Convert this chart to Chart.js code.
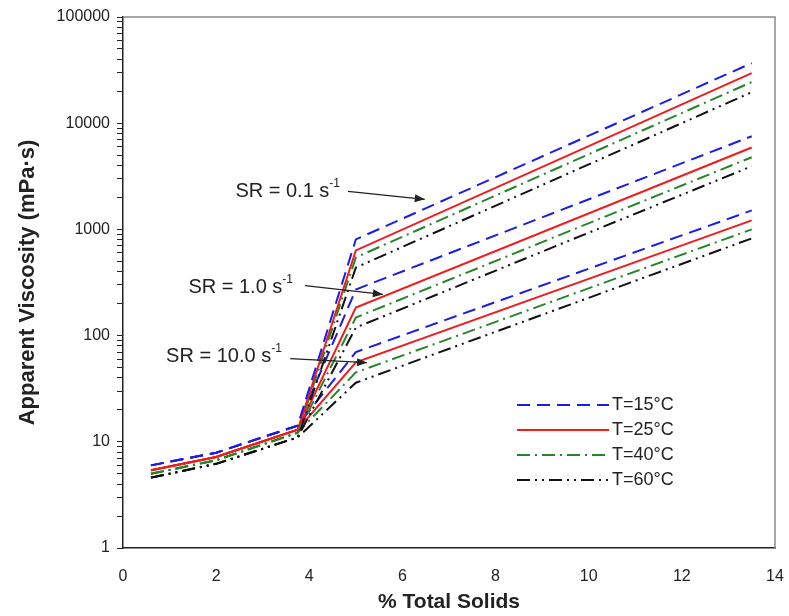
<!DOCTYPE html>
<html>
<head>
<meta charset="utf-8">
<script src="https://cdn.jsdelivr.net/npm/chart.js@4.4.1/dist/chart.umd.min.js"></script>
<style>
  html, body { margin: 0; padding: 0; background: #fff; }
  #wrap { width: 789px; height: 616px; }
</style>
</head>
<body>
<div id="wrap"><canvas id="myChart" width="789" height="616"></canvas></div>
<script>
// % total solids where each curve has a point
const solids = [0.6, 2.0, 3.75, 5.0, 13.5];

// apparent viscosity (mPa·s) at SR = 0.1 1/s
const sr01_T15 = [6.0, 7.9, 14.2, 805, 36800];
const sr01_T25 = [5.4, 7.2, 13.0, 634, 29600];
const sr01_T40 = [5.0, 6.7, 12.2, 545, 24400];
const sr01_T60 = [4.6, 6.2, 11.0, 437, 19600];

// SR = 1.0 1/s
const sr1_T15 = [6.0, 7.9, 14.2, 272, 7540];
const sr1_T25 = [5.4, 7.2, 13.0, 184, 5900];
const sr1_T40 = [5.0, 6.7, 12.2, 148, 4780];
const sr1_T60 = [4.6, 6.2, 11.0, 119, 3930];

// SR = 10.0 1/s
const sr10_T15 = [6.0, 7.9, 14.2, 70, 1510];
const sr10_T25 = [5.4, 7.2, 13.0, 56, 1217];
const sr10_T40 = [5.0, 6.7, 12.2, 45, 1000];
const sr10_T60 = [4.6, 6.2, 11.0, 36, 823];

const tempLabels = ['T=15°C', 'T=25°C', 'T=40°C', 'T=60°C'];
const xTicks = [0, 2, 4, 6, 8, 10, 12, 14];
const yDecades = [1, 10, 100, 1000, 10000, 100000];

const styles = [
    { color: '#1c1ce8', dash: [13, 7] },
    { color: '#f01c1c', dash: [] },
    { color: '#23872a', dash: [13, 5, 2, 5] },
    { color: '#111111', dash: [13, 5, 2, 5, 2, 5] }
];

const series = [
    [sr01_T15, sr01_T25, sr01_T40, sr01_T60],
    [sr1_T15, sr1_T25, sr1_T40, sr1_T60],
    [sr10_T15, sr10_T25, sr10_T40, sr10_T60]
];

// shear-rate notes: text end point and arrow, in data units
const notes = [
    { text: 'SR = 0.1 s', textAt: [4.66, 2282], from: [4.83, 2282], to: [6.48, 1920] },
    { text: 'SR = 1.0 s', textAt: [3.65, 284], from: [3.91, 296], to: [5.58, 244] },
    { text: 'SR = 10.0 s', textAt: [3.41, 63], from: [3.59, 60.7], to: [5.24, 55.6] }
];

const FONT = "'Liberation Sans', Arial, sans-serif";

const datasets = [];
series.forEach((group, g) => {
    group.forEach((vals, t) => {
        datasets.push({
            label: tempLabels[t],
            data: solids.map((x, i) => ({ x: x, y: vals[i] })),
            borderColor: styles[t].color,
            borderDash: styles[t].dash,
            borderWidth: 2,
            pointRadius: 0,
            tension: 0,
            fill: false
        });
    });
});

function drawArrow(ctx, x1, y1, x2, y2) {
    ctx.beginPath();
    ctx.moveTo(x1, y1);
    ctx.lineTo(x2, y2);
    ctx.stroke();
    const a = Math.atan2(y2 - y1, x2 - x1);
    const len = 10, w = 4;
    ctx.beginPath();
    ctx.moveTo(x2, y2);
    ctx.lineTo(x2 - len * Math.cos(a) + w * Math.sin(a), y2 - len * Math.sin(a) - w * Math.cos(a));
    ctx.lineTo(x2 - len * Math.cos(a) - w * Math.sin(a), y2 - len * Math.sin(a) + w * Math.cos(a));
    ctx.closePath();
    ctx.fill();
}

const extras = {
    id: 'extras',
    afterDatasetsDraw(chart) {
        const ctx = chart.ctx;
        const a = chart.chartArea;
        const xs = chart.scales.x, ys = chart.scales.y;
        ctx.save();

        // plot frame (top + right)
        ctx.strokeStyle = '#8a8a8a';
        ctx.lineWidth = 1.5;
        ctx.beginPath();
        ctx.moveTo(a.left, a.top);
        ctx.lineTo(a.right, a.top);
        ctx.lineTo(a.right, a.bottom);
        ctx.stroke();

        // SR notes
        ctx.fillStyle = '#222';
        ctx.strokeStyle = '#222';
        ctx.lineWidth = 1.2;
        notes.forEach(n => {
            const tx = xs.getPixelForValue(n.textAt[0]);
            const ty = ys.getPixelForValue(n.textAt[1]);
            ctx.font = '20px ' + FONT;
            const mw = ctx.measureText(n.text).width;
            ctx.font = '12px ' + FONT;
            const sw = ctx.measureText('-1').width;
            ctx.textBaseline = 'middle';
            ctx.textAlign = 'left';
            ctx.font = '20px ' + FONT;
            ctx.fillText(n.text, tx - mw - sw, ty);
            ctx.font = '12px ' + FONT;
            ctx.fillText('-1', tx - sw, ty - 8);
            drawArrow(ctx,
                xs.getPixelForValue(n.from[0]), ys.getPixelForValue(n.from[1]),
                xs.getPixelForValue(n.to[0]), ys.getPixelForValue(n.to[1]));
        });

        // legend
        const lx1 = 517, lx2 = 609, rowY = [405, 430, 455, 480];
        ctx.font = '18px ' + FONT;
        ctx.textBaseline = 'middle';
        tempLabels.forEach((lab, i) => {
            ctx.strokeStyle = styles[i].color;
            ctx.lineWidth = 2;
            ctx.setLineDash(styles[i].dash);
            ctx.beginPath();
            ctx.moveTo(lx1, rowY[i]);
            ctx.lineTo(lx2, rowY[i]);
            ctx.stroke();
            ctx.setLineDash([]);
            ctx.fillStyle = '#222';
            ctx.fillText(lab, lx2 + 3, rowY[i]);
        });
        ctx.restore();
    }
};

const ctx = document.getElementById('myChart').getContext('2d');
const myChart = new Chart(ctx, {
    type: 'line',
    data: { datasets: datasets },
    options: {
        responsive: false,
        animation: false,
        layout: { padding: { left: 0, right: 14, top: 17, bottom: 0 } },
        plugins: {
            legend: { display: false },
            tooltip: { enabled: false }
        },
        scales: {
            x: {
                type: 'linear',
                min: 0,
                max: 14,
                afterBuildTicks: s => { s.ticks = xTicks.map(v => ({ value: v })); },
                afterFit: s => { s.height = 68; s.paddingLeft = 0; s.paddingRight = 0; },
                grid: { display: false, drawTicks: false },
                border: { display: true, color: '#222', width: 1.5 },
                ticks: { color: '#222', font: { family: FONT, size: 16 }, padding: 19, maxRotation: 0 },
                title: {
                    display: true,
                    text: '% Total Solids',
                    color: '#222',
                    font: { family: FONT, size: 21, weight: 'bold' },
                    padding: { top: 0, bottom: 1 }
                }
            },
            y: {
                type: 'logarithmic',
                min: 1,
                max: 100000,
                afterBuildTicks: s => {
                    const t = [];
                    yDecades.forEach(d => {
                        for (let m = 1; m <= 9; m++) {
                            if (d * m <= 100000) t.push({ value: d * m });
                        }
                    });
                    s.ticks = t;
                },
                afterFit: s => { s.width = 123; s.paddingTop = 0; s.paddingBottom = 0; },
                grid: { drawOnChartArea: false, drawTicks: true, tickLength: 6, color: '#222', lineWidth: 1 },
                border: { display: true, color: '#222', width: 1.5 },
                ticks: {
                    autoSkip: false,
                    color: '#222',
                    font: { family: FONT, size: 16 },
                    padding: 7,
                    callback: v => yDecades.includes(v) ? String(v) : ''
                },
                title: {
                    display: true,
                    text: 'Apparent Viscosity (mPa·s)',
                    color: '#222',
                    font: { family: FONT, size: 22, weight: 'bold' },
                    padding: { top: 15, bottom: 0 }
                }
            }
        }
    },
    plugins: [extras]
});
</script>
</body>
</html>
